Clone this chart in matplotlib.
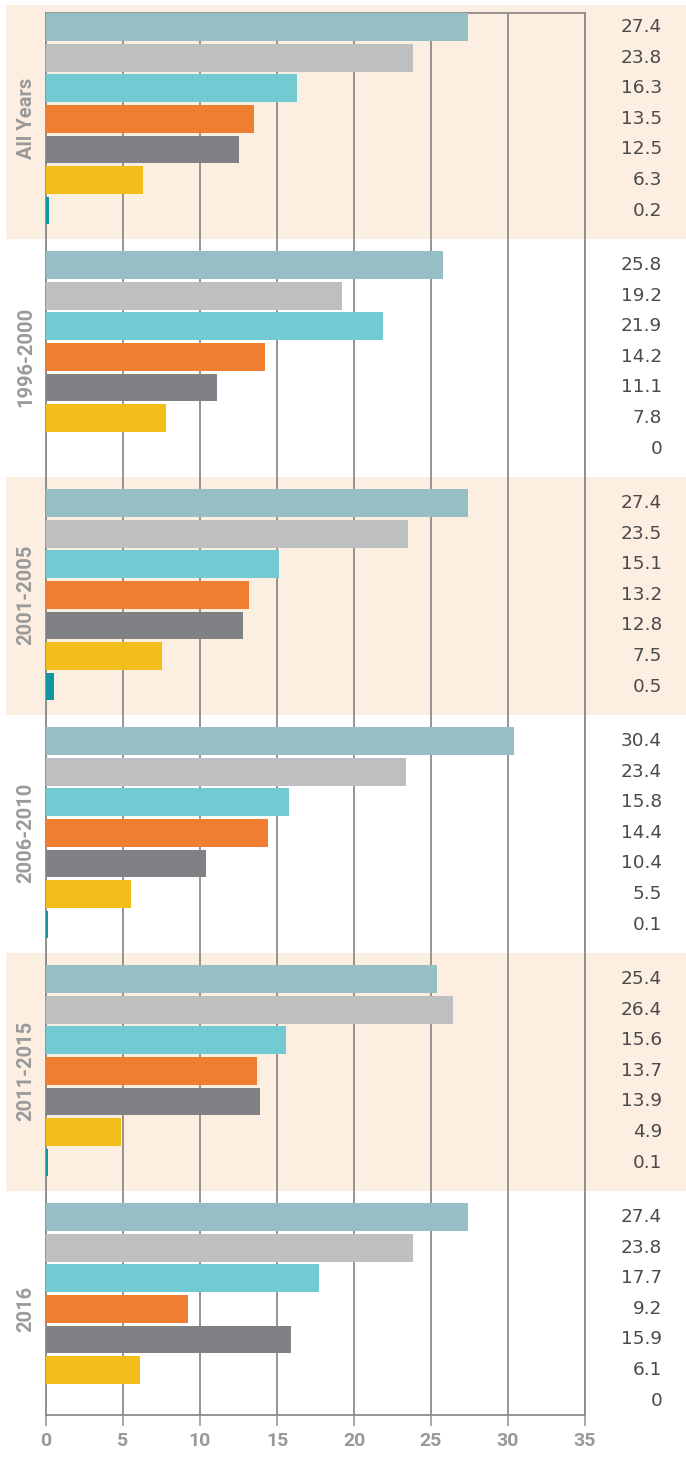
import matplotlib
matplotlib.use("Agg")
import matplotlib.pyplot as plt
from matplotlib.patches import Rectangle
from matplotlib.transforms import blended_transform_factory

groups = ["All Years", "1996-2000", "2001-2005", "2006-2010", "2011-2015", "2016"]
values = [
    [27.4, 23.8, 16.3, 13.5, 12.5, 6.3, 0.2],
    [25.8, 19.2, 21.9, 14.2, 11.1, 7.8, 0],
    [27.4, 23.5, 15.1, 13.2, 12.8, 7.5, 0.5],
    [30.4, 23.4, 15.8, 14.4, 10.4, 5.5, 0.1],
    [25.4, 26.4, 15.6, 13.7, 13.9, 4.9, 0.1],
    [27.4, 23.8, 17.7, 9.2, 15.9, 6.1, 0],
]
colors = ["#95bec5", "#bebfc1", "#72cad2", "#f07e30", "#808184", "#f2bf1a", "#12959f"]
xticks = [0, 5, 10, 15, 20, 25, 30, 35]

W, H = 686, 1458
G = 7.78        # group pitch in bar slots
bar_h = 0.905
band_col = "#fdeee2"
grid_col = "#8c8c8c"

fig = plt.figure(figsize=(W / 100, H / 100), dpi=100)
ax = fig.add_axes([46 / W, 1 - 1415 / H, (585 - 46) / W, (1415 - 12.7) / H])
ax.patch.set_alpha(0)

fx = blended_transform_factory(fig.transFigure, ax.transData)

for g, name in enumerate(groups):
    c0 = g * G
    if g % 2 == 0:
        top = max(c0 - 0.855, -0.72)
        ax.add_patch(Rectangle((6 / W, top), 1 - 6 / W, c0 - 0.855 + G - top,
                               transform=fx, facecolor=band_col, edgecolor="none",
                               zorder=0, clip_on=False))
    for i, v in enumerate(values[g]):
        y = c0 + i
        ax.barh(y, v, height=bar_h, color=colors[i], zorder=3)
        ax.text(662 / W, y, f"{v:g}", transform=fx, ha="right", va="center",
                fontsize=13.3, color="#4a4a4a", family="DejaVu Sans")
    ax.text(26 / W, c0 + 3, name, transform=fx, rotation=90, ha="center", va="center",
            fontsize=14.5, fontweight="bold", color="#9a9a9a", family="Roboto")

ax.set_xlim(0, 35)
ax.set_ylim(5 * G + 6.47, -0.47)
ax.set_xticks(xticks)
ax.set_yticks([])
ax.set_axisbelow(True)
ax.grid(axis="x", color=grid_col, linewidth=1.3, zorder=1)
for s in ax.spines.values():
    s.set_color(grid_col)
    s.set_linewidth(1.3)
ax.tick_params(axis="x", length=8, width=1.3, color="#a0a0a0", pad=4,
               labelsize=14, labelcolor="#999999")
for lab in ax.get_xticklabels():
    lab.set_family("Roboto")
    lab.set_fontweight("bold")

fig.savefig("out.png", dpi=100)
